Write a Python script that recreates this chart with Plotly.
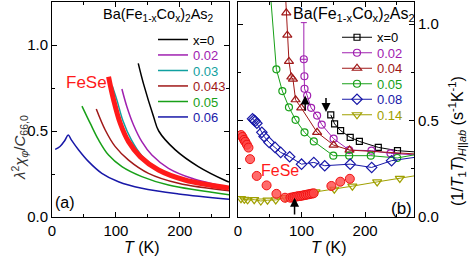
import plotly.graph_objects as go

# ---------------- data: panel (a) lambda^2 chi / C66 ----------------
a_T_x0 = [135, 143, 159, 167, 193, 229, 273, 277]
a_y_x0 = [0.893, 0.777, 0.583, 0.50, 0.39, 0.293, 0.209, 0.203]
a_T_002 = [109.4, 117.2, 127.6, 140.6, 156.3, 182.3, 218.8, 277]
a_y_002 = [0.744, 0.641, 0.535, 0.438, 0.360, 0.283, 0.225, 0.172]
a_T_003 = [94.3, 101.5, 111, 124, 141, 168, 209, 277]
a_y_003 = [0.762, 0.681, 0.56, 0.45, 0.355, 0.278, 0.218, 0.165]
a_T_0043 = [69.3, 83.3, 99, 119.8, 151, 198, 277]
a_y_0043 = [0.628, 0.506, 0.409, 0.331, 0.254, 0.196, 0.152]
a_T_005 = [46.9, 59.9, 72.9, 88.5, 109.4, 140.6, 182.3, 277]
a_y_005 = [0.645, 0.544, 0.448, 0.360, 0.293, 0.235, 0.186, 0.13]
a_T_006 = [5, 12.5, 20, 25.5, 30, 41.7, 57.3, 78, 104, 140.6, 198, 277]
a_y_006 = [0.393, 0.41, 0.445, 0.477, 0.45, 0.39, 0.322, 0.254, 0.205, 0.167, 0.134, 0.103]
a_T_fese = [88.5, 96.4, 106.8, 119.8, 138, 166.7, 208, 277]
a_y_fese = [0.816, 0.681, 0.545, 0.438, 0.351, 0.273, 0.215, 0.168]

# ---------------- data: panel (b) 1/T1T ----------------
b_T_x0 = [146, 152, 161.5, 176.6, 191, 220.8, 251, 290]
b_y_x0 = [0.53, 0.483, 0.448, 0.413, 0.392, 0.361, 0.344, 0.335]
b_T_002 = [103.6, 104.5, 104.7, 108.9, 115.1, 124.5, 131.8, 150.5, 175, 210, 240, 290]
b_y_002 = [0.818, 0.73, 0.665, 0.63, 0.566, 0.526, 0.479, 0.406, 0.347, 0.344, 0.33, 0.32]
b_err_002 = 0.19
b_T_004 = [74, 76, 77.6, 80.2, 83.9, 86.5, 90.6, 99.5, 124.5, 150.5, 175.5, 290]
b_y_004 = [1.2, 1.059, 0.943, 0.807, 0.726, 0.715, 0.608, 0.566, 0.439, 0.373, 0.347, 0.325]
b_T_005 = [50, 60.4, 69.8, 80.2, 90.6, 104.7, 119.3, 150, 175, 209, 250.5, 290]
b_y_005 = [1.2, 0.766, 0.653, 0.569, 0.504, 0.439, 0.392, 0.318, 0.318, 0.318, 0.306, 0.33]
b_T_008 = [22.9, 25, 27.1, 29.7, 37.5, 41.1, 49, 58.3, 67.2, 81.3, 100, 119.3, 136.5, 176.6, 210.4, 241.7, 290]
b_y_008 = [0.509, 0.503, 0.497, 0.486, 0.439, 0.417, 0.387, 0.361, 0.335, 0.3125, 0.274, 0.283, 0.266, 0.274, 0.257, 0.292, 0.315]
b_T_014 = [4.7, 10, 15.1, 25.5, 35.9, 46.4, 59.4, 75, 88, 106, 122, 151.6, 180, 219, 254.7, 290]
b_y_014 = [0.095, 0.092, 0.089, 0.09, 0.083, 0.087, 0.0885, 0.1, 0.106, 0.118, 0.13, 0.144, 0.16, 0.182, 0.2, 0.22]
b_T_fese = [5, 7, 9.5, 11.5, 14, 16.5, 19, 29.5, 45, 60.5, 74, 82.5, 86, 89, 92, 95, 98, 101, 104,
            107, 110, 113, 116, 119, 147, 161, 176]
b_y_fese = [0.425, 0.415, 0.40, 0.39, 0.375, 0.36, 0.30, 0.213, 0.164, 0.12, 0.10, 0.10, 0.102, 0.104,
            0.106, 0.108, 0.109, 0.111, 0.113, 0.115, 0.117, 0.119, 0.121, 0.123, 0.161, 0.183, 0.198]

# arrows in panel (b): (T, y_tip, y_tail)
arrows_b = [(138.5, 0.545, 0.625), (105.7, 0.63, 0.543), (89, 0.10, 0.005)]

labels_a = ["x=0", "0.02", "0.03", "0.043", "0.05", "0.06"]
labels_b = ["x=0", "0.02", "0.04", "0.05", "0.08", "0.14"]

C_BLACK = "#000000"
C_PURPLE = "#a020b0"
C_TEAL = "#10a0a0"
C_DRED = "#a01818"
C_GREEN = "#18a018"
C_BLUE = "#1818a8"
C_OLIVE = "#a0a000"
C_RED = "#ff1a1a"

W, H = 469, 258
FONT = "Liberation Sans, Arial, sans-serif"


def fx(px):
    return px / W


def fy(py):
    return 1 - py / H


fig = go.Figure()

series_a = [
    (a_T_x0, a_y_x0, C_BLACK, labels_a[0]),
    (a_T_002, a_y_002, C_PURPLE, labels_a[1]),
    (a_T_003, a_y_003, C_TEAL, labels_a[2]),
    (a_T_0043, a_y_0043, C_DRED, labels_a[3]),
    (a_T_005, a_y_005, C_GREEN, labels_a[4]),
    (a_T_006, a_y_006, C_BLUE, labels_a[5]),
]
leg_rows_a = [39.5, 55.0, 70.5, 86.0, 101.5, 117.0]
leg_rows_b = [37.3, 52.8, 68.3, 83.8, 99.3, 114.8]
layout_legends = {}
for i, (T, y, c, lab) in enumerate(series_a):
    key = "legend" if i == 0 else f"legend{i + 1}"
    fig.add_trace(go.Scatter(x=T, y=y, mode="lines", line=dict(color=c, width=1.5, shape="spline"),
                             name=lab, legend=key, xaxis="x", yaxis="y"))
    layout_legends[key] = dict(x=fx(153), y=fy(leg_rows_a[i]), xanchor="left", yanchor="middle",
                               bgcolor="rgba(0,0,0,0)", borderwidth=0,
                               font=dict(size=13, color=c, family=FONT))
fig.add_trace(go.Scatter(x=a_T_fese, y=a_y_fese, mode="lines",
                         line=dict(color=C_RED, width=5, shape="spline"),
                         showlegend=False, xaxis="x", yaxis="y"))

series_b = [
    (b_T_x0, b_y_x0, C_BLACK, "square-open", 6, labels_b[0]),
    (b_T_002, b_y_002, C_PURPLE, "circle-open", 7, labels_b[1]),
    (b_T_004, b_y_004, C_DRED, "triangle-up-open", 8, labels_b[2]),
    (b_T_005, b_y_005, C_GREEN, "circle-open", 7, labels_b[3]),
    (b_T_008, b_y_008, C_BLUE, "diamond-open", 8, labels_b[4]),
    (b_T_014, b_y_014, C_OLIVE, "triangle-down-open", 8, labels_b[5]),
]
for i, (T, y, c, sym, sz, lab) in enumerate(series_b):
    key = f"legend{i + 7}"
    fig.add_trace(go.Scatter(x=T, y=y, mode="lines+markers",
                             line=dict(color=c, width=1),
                             marker=dict(symbol=sym, size=sz, color=c, line=dict(width=1.2, color=c)),
                             name=lab, legend=key, xaxis="x2", yaxis="y2"))
    layout_legends[key] = dict(x=fx(337), y=fy(leg_rows_b[i]), xanchor="left", yanchor="middle",
                               bgcolor="rgba(0,0,0,0)", borderwidth=0,
                               font=dict(size=13, color=c, family=FONT))

fig.add_trace(go.Scatter(x=b_T_002[:1], y=b_y_002[:1], mode="markers",
                         marker=dict(size=1, color="rgba(0,0,0,0)"),
                         error_y=dict(type="data", array=[b_err_002], arrayminus=[0], color=C_PURPLE,
                                      thickness=1, width=3),
                         showlegend=False, xaxis="x2", yaxis="y2"))

fig.add_trace(go.Scatter(x=b_T_fese, y=b_y_fese, mode="markers",
                         marker=dict(symbol="circle", size=9, color="rgba(255,70,70,0.8)",
                                     line=dict(width=1, color="#f01010")),
                         showlegend=False, xaxis="x2", yaxis="y2"))

axis_common = dict(showgrid=False, zeroline=False, showline=True, linecolor="black", linewidth=1,
                   ticks="inside", ticklen=5, tickwidth=1, tickcolor="black", mirror="ticks",
                   automargin=False,
                   tickfont=dict(size=15, family=FONT, color="black"),
                   minor=dict(ticks="inside", ticklen=3, tickwidth=1, tickcolor="black"))

fig.update_layout(
    width=W, height=H, margin=dict(l=0, r=0, t=0, b=0, pad=0, autoexpand=False),
    paper_bgcolor="white", plot_bgcolor="white",
    xaxis=dict(domain=[fx(52), fx(229)], range=[0, 277], dtick=100, anchor="y",
               minor_dtick=50, **axis_common),
    yaxis=dict(domain=[fy(217), fy(2)], range=[0, 1.25], dtick=0.5, tickformat=".1f", anchor="x",
               minor_dtick=0.25, **axis_common),
    xaxis2=dict(domain=[fx(238), fx(414)], range=[0, 277], dtick=100, anchor="y2",
                minor_dtick=50, **axis_common),
    yaxis2=dict(domain=[fy(217), fy(2)], range=[0, 1.115], dtick=0.5, tickformat=".1f", anchor="x2",
                side="right", minor_dtick=0.25, **axis_common),
    **layout_legends,
)


def label(text, px, py, size, color="black", angle=0):
    return dict(text=text, x=fx(px), y=fy(py), xref="paper", yref="paper", showarrow=False,
                xanchor="center", yanchor="middle", textangle=angle,
                font=dict(size=size, family=FONT, color=color))


ann = []
title_ba = "Ba(Fe<sub>1-x</sub>Co<sub>x</sub>)<sub>2</sub>As<sub>2</sub>"
ann.append(label(title_ba, 158, 15, 14.5))
ann.append(label(title_ba, 354, 15, 16))
ann.append(label("FeSe", 86, 82, 17, C_RED))
ann.append(label("FeSe", 280, 170, 16, C_RED))
ann.append(label("(a)", 65, 202, 16))
ann.append(label("(b)", 401, 208, 17))
ann.append(label("<i>T</i> (K)", 142, 247, 16))
ann.append(label("<i>T</i> (K)", 329, 247, 16))
ann.append(label("<i>λ</i><sup>2</sup><i>χ</i><sub><i>φ</i></sub>/<i>C</i><sub>66,0</sub>",
                 19, 148, 15, "#333333", -90))
ann.append(label("(1/<i>T</i><sub>1</sub><i>T</i>)<sub><i>H</i>||<i>ab</i></sub> (s<sup>-1</sup>K<sup>-1</sup>)",
                 457, 141, 16, "black", -90))
for (T, ytip, ytail) in arrows_b:
    ann.append(dict(x=T, y=ytip, ax=T, ay=ytail, xref="x2", yref="y2", axref="x2", ayref="y2",
                    text="", showarrow=True, arrowhead=2, arrowsize=1.2, arrowwidth=1.5,
                    arrowcolor="black"))
fig.update_layout(annotations=ann)

fig.write_html("out.html", config={"displayModeBar": False},
               post_script="document.body.style.margin='0px';")
